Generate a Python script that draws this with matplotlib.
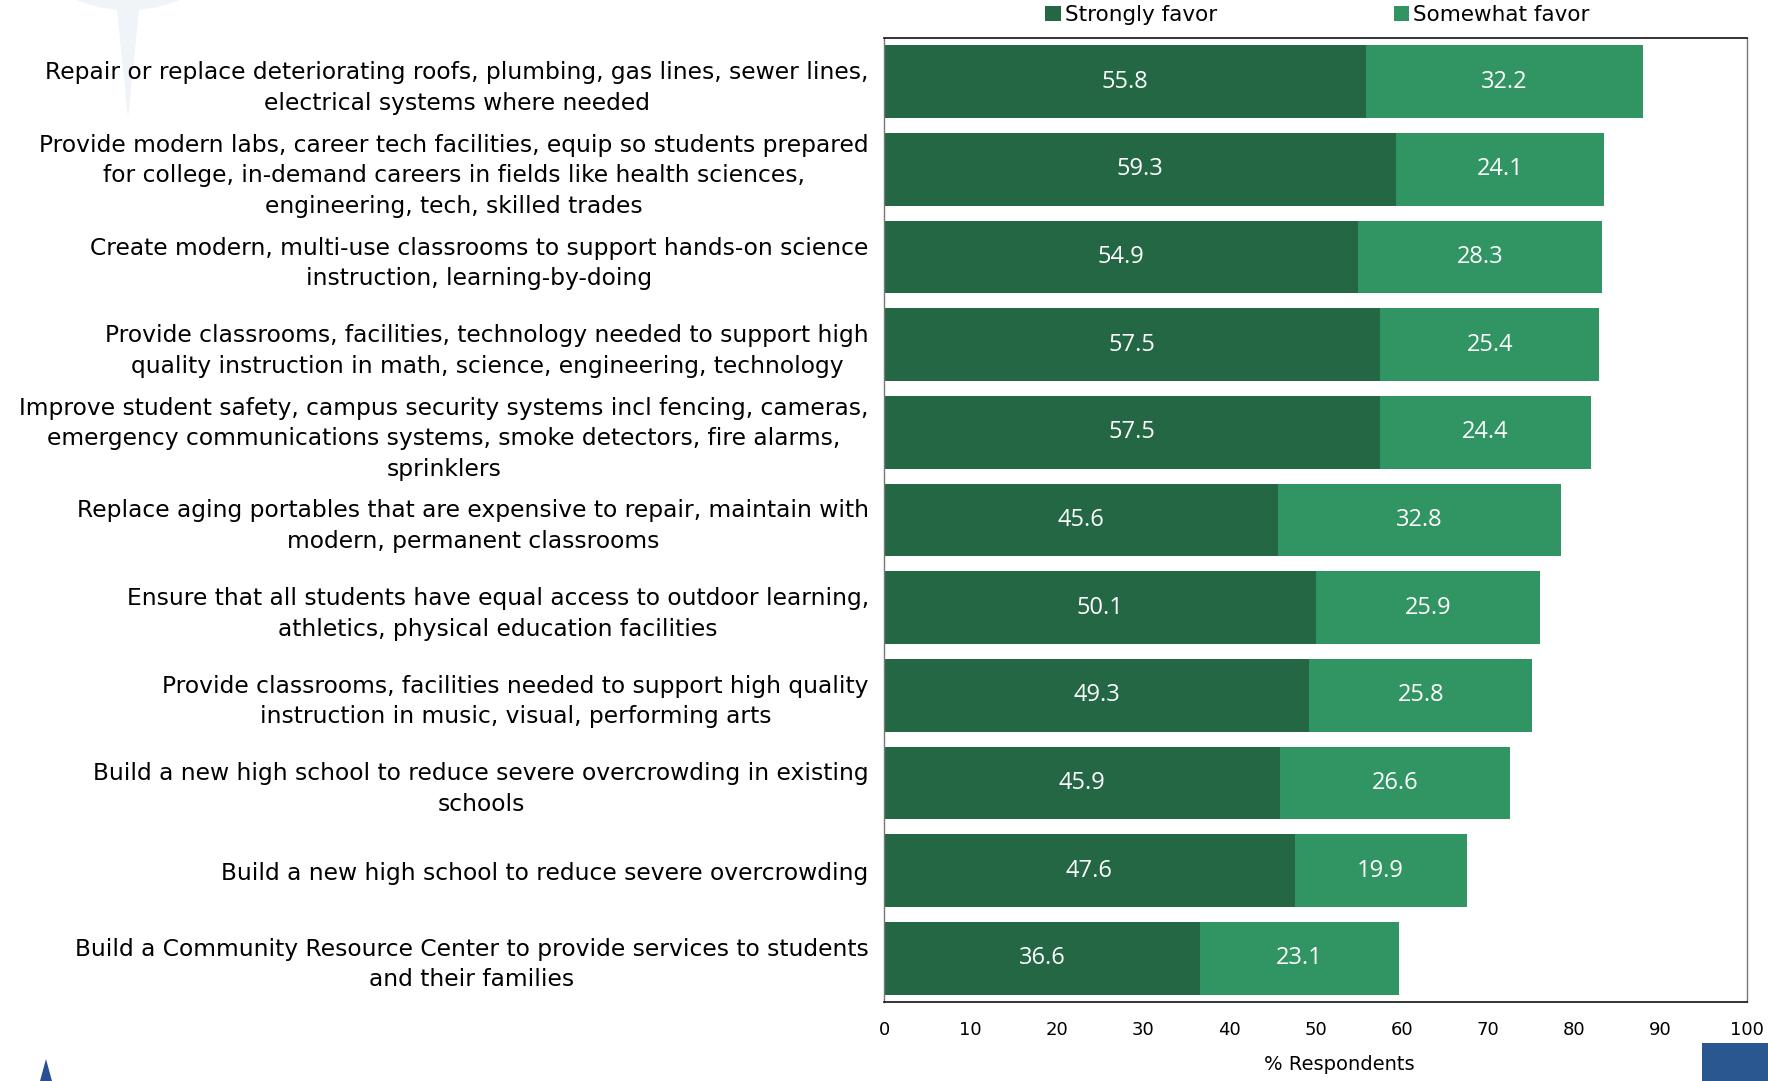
import matplotlib
matplotlib.use("Agg")
import matplotlib.pyplot as plt
from matplotlib.patches import Rectangle, Polygon, Wedge

categories = [
    "Repair or replace deteriorating roofs, plumbing, gas lines, sewer lines,\nelectrical systems where needed",
    "Provide modern labs, career tech facilities, equip so students prepared\nfor college, in-demand careers in fields like health sciences,\nengineering, tech, skilled trades",
    "Create modern, multi-use classrooms to support hands-on science\ninstruction, learning-by-doing",
    "Provide classrooms, facilities, technology needed to support high\nquality instruction in math, science, engineering, technology",
    "Improve student safety, campus security systems incl fencing, cameras,\nemergency communications systems, smoke detectors, fire alarms,\nsprinklers",
    "Replace aging portables that are expensive to repair, maintain with\nmodern, permanent classrooms",
    "Ensure that all students have equal access to outdoor learning,\nathletics, physical education facilities",
    "Provide classrooms, facilities needed to support high quality\ninstruction in music, visual, performing arts",
    "Build a new high school to reduce severe overcrowding in existing\nschools",
    "Build a new high school to reduce severe overcrowding",
    "Build a Community Resource Center to provide services to students\nand their families",
]
strongly = [55.8, 59.3, 54.9, 57.5, 57.5, 45.6, 50.1, 49.3, 45.9, 47.6, 36.6]
somewhat = [32.2, 24.1, 28.3, 25.4, 24.4, 32.8, 25.9, 25.8, 26.6, 19.9, 23.1]
series_names = ["Strongly favor", "Somewhat favor"]
xticks = [0, 10, 20, 30, 40, 50, 60, 70, 80, 90, 100]

dark = "#236745"
light = "#319463"

W, H = 1768, 1081
fig = plt.figure(figsize=(W / 100, H / 100), dpi=100)

# faint watermark (decoration, behind everything)
fig.patches.append(Wedge((128 / W, 1 + 45 / H), 90 / W, 180, 360, width=22 / W,
                         transform=fig.transFigure, facecolor="#f0f3f8", edgecolor="none",
                         zorder=-5))
fig.patches.append(Polygon([(116 / W, 1.0), (140 / W, 1.0), (128 / W, 1 - 118 / H)],
                           closed=True, transform=fig.transFigure, facecolor="#f0f3f8",
                           edgecolor="none", zorder=-5))
fig.patches.append(Polygon([(40 / W, 0.0), (52 / W, 0.0), (46 / W, 22 / H)],
                           closed=True, transform=fig.transFigure, facecolor="#2a4f95",
                           edgecolor="none", zorder=-5))
fig.patches.append(Rectangle((1702 / W, 0), 66 / W, 38 / H, transform=fig.transFigure,
                             facecolor="#2b5790", edgecolor="none", zorder=-5))

left, right, top, bottom = 884, 1747, 38, 1002
ax = fig.add_axes([left / W, 1 - bottom / H, (right - left) / W, (bottom - top) / H])
ax.patch.set_alpha(0.0)

y = list(range(len(categories)))
h = 0.83
b1 = ax.barh(y, strongly, height=h, color=dark, label=series_names[0], zorder=2)
b2 = ax.barh(y, somewhat, left=strongly, height=h, color=light, label=series_names[1], zorder=2)

for rect, v in zip(b1, strongly):
    ax.text(rect.get_x() + rect.get_width() / 2, rect.get_y() + rect.get_height() / 2,
            f"{v:.1f}", ha="center", va="center", color="white", fontsize=17,
            family="Open Sans")
for rect, v in zip(b2, somewhat):
    ax.text(rect.get_x() + rect.get_width() / 2, rect.get_y() + rect.get_height() / 2,
            f"{v:.1f}", ha="center", va="center", color="white", fontsize=17,
            family="Open Sans")

ax.set_xlim(0, 100)
ax.set_ylim(len(categories) - 0.5, -0.5)
ax.set_yticks(y)
ax.set_yticklabels(categories, fontsize=16.8, family="DejaVu Sans", linespacing=1.42,
                   multialignment="center")
ax.set_xticks(xticks)
ax.set_xticklabels([str(t) for t in xticks], fontsize=13, family="DejaVu Sans")
ax.tick_params(axis="y", length=0, pad=11)
ax.tick_params(axis="x", length=0, pad=14)
ax.set_xlabel("% Respondents", fontsize=14, family="DejaVu Sans")
ax.xaxis.set_label_coords(0.528, -0.055)

for s in ["top", "bottom"]:
    ax.spines[s].set_color("#111111")
    ax.spines[s].set_linewidth(1.2)
for s in ["left", "right"]:
    ax.spines[s].set_color("#777777")
    ax.spines[s].set_linewidth(1.0)

leg = fig.legend(handles=[b1, b2], labels=series_names, loc="center",
                 bbox_to_anchor=((1051 + 1584) / 2 / W, 1 - 15 / H), ncol=2, frameon=False,
                 fontsize=15.5, handlelength=0.7, handleheight=0.7, handletextpad=0.2,
                 columnspacing=8.2, borderpad=0)

fig.savefig("out.png", dpi=100, facecolor="white")
